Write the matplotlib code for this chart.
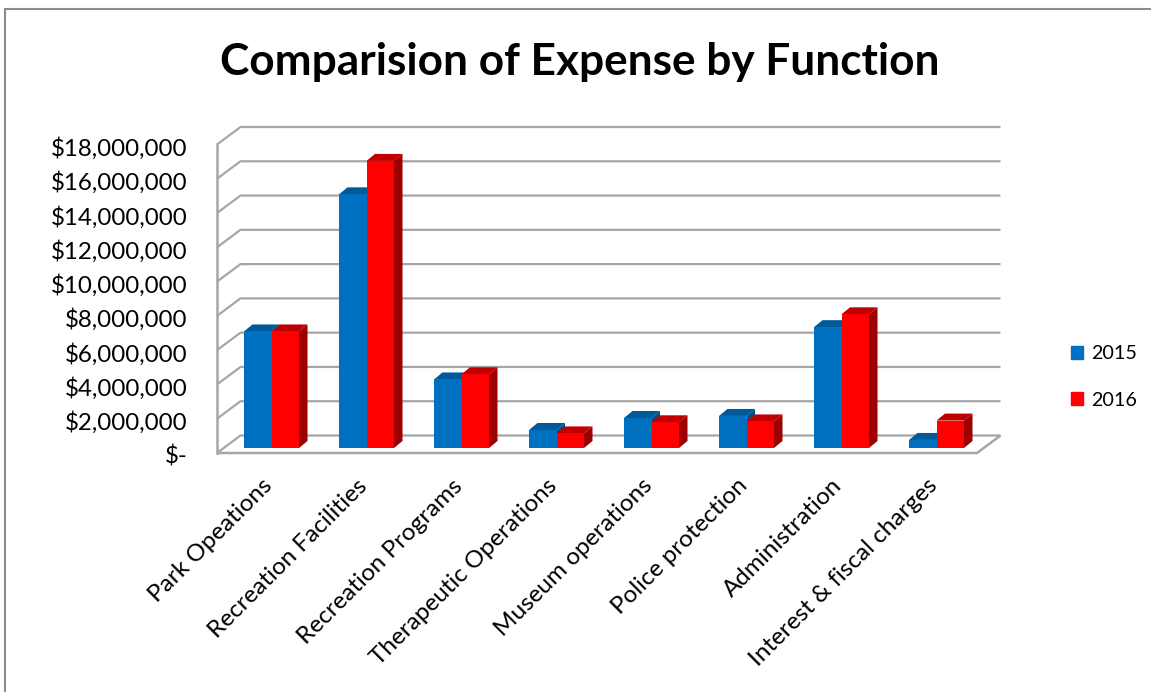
import matplotlib
matplotlib.use('Agg')
import matplotlib.pyplot as plt
from matplotlib.patches import Patch, Polygon, Rectangle
from matplotlib.ticker import FuncFormatter
from matplotlib.transforms import ScaledTranslation

categories = ['Park Opeations', 'Recreation Facilities', 'Recreation Programs', 'Therapeutic Operations',
              'Museum operations', 'Police protection', 'Administration', 'Interest & fiscal charges']
values2015 = [6800000, 14800000, 4000000, 1050000, 1750000, 1870000, 7050000, 470000]
values2016 = [6800000, 16750000, 4300000, 850000, 1500000, 1550000, 7800000, 1600000]
yTicks = [0, 2000000, 4000000, 6000000, 8000000, 10000000, 12000000, 14000000, 16000000, 18000000]

FIG_W, FIG_H = 1151, 692
AX_LEFT, AX_RIGHT, AX_TOP, AX_BOTTOM = 217, 977, 144.5, 453
GRID = '#a6a6a6'
FONT = 'Lato'


def formatDollar(value, pos):
    return '$-' if value == 0 else f'${value:,.0f}'


def drawBar3d(ax, x, value, width, faceColor, topColor, sideColor, base, depthX, depthY):
    top = base + value
    ax.bar(x, value, width, bottom=base, color=faceColor, align='edge', zorder=4, clip_on=False)
    ax.add_patch(Polygon([(x, top), (x + depthX, top + depthY), (x + width + depthX, top + depthY), (x + width, top)],
                         color=topColor, lw=0, zorder=3, clip_on=False))
    ax.add_patch(Polygon([(x + width, base), (x + width + depthX, base + depthY), (x + width + depthX, top + depthY), (x + width, top)],
                         color=sideColor, lw=0, zorder=3, clip_on=False))


def shiftLabels(labels, fig, dxPx, dyPx):
    shift = ScaledTranslation(dxPx / 100, dyPx / 100, fig.dpi_scale_trans)
    for label in labels:
        label.set_transform(label.get_transform() + shift)


def main():
    plt.rcParams['font.family'] = [FONT, 'DejaVu Sans']
    fig = plt.figure(figsize=(FIG_W / 100, FIG_H / 100), dpi=100)
    ax = fig.add_axes([AX_LEFT / FIG_W, 1 - AX_BOTTOM / FIG_H, (AX_RIGHT - AX_LEFT) / FIG_W, (AX_BOTTOM - AX_TOP) / FIG_H])
    ax.set_xlim(-0.5, len(categories) - 0.5)
    ax.set_ylim(0, 18000000)

    # pixel sizes turned into data units
    xPerPx = len(categories) / (AX_RIGHT - AX_LEFT)
    yPerPx = 18000000 / (AX_BOTTOM - AX_TOP)
    wallX, wallY = 23.5 * xPerPx, 17.5 * yPerPx
    depthX, depthY = 8.5 * xPerPx, 7 * yPerPx
    base = 5 * yPerPx
    barWidth = 27.5 * xPerPx
    barShift = 7 * xPerPx

    # walls and gridlines
    xLeft, xRight = ax.get_xlim()
    for tick in yTicks:
        ax.plot([xLeft, xLeft + wallX, xRight + wallX], [tick, tick + wallY, tick + wallY], color=GRID, lw=1.6, clip_on=False, zorder=1,
                solid_joinstyle='miter', solid_capstyle='butt')
    ax.plot([xLeft, xLeft], [0, 18000000], color=GRID, lw=1.8, clip_on=False, zorder=1)
    ax.plot([xLeft, xRight, xRight + wallX], [0, 0, wallY], color=GRID, lw=1.8, clip_on=False, zorder=1, solid_capstyle='butt')

    for i in range(len(categories)):
        drawBar3d(ax, i + barShift - barWidth, values2015[i], barWidth, '#0070c0', '#005a9a', '#00518a', base, depthX, depthY)
        drawBar3d(ax, i + barShift, values2016[i], barWidth, '#ff0000', '#c00000', '#9c0000', base, depthX, depthY)

    for spine in ax.spines.values():
        spine.set_visible(False)
    ax.patch.set_visible(False)
    ax.set_yticks(yTicks)
    ax.yaxis.set_major_formatter(FuncFormatter(formatDollar))
    ax.tick_params(axis='y', length=0, pad=21, labelsize=17.4)
    ax.set_xticks(range(len(categories)))
    ax.set_xticklabels(categories, rotation=45, ha='right', va='top', rotation_mode='anchor', fontsize=17.5)
    ax.tick_params(axis='x', length=0, pad=13)
    shiftLabels(ax.get_yticklabels(), fig, 0, -2)
    shiftLabels(ax.get_xticklabels(), fig, -3, -4)

    fig.text(580 / FIG_W, 1 - 62 / FIG_H, 'Comparision of Expense by Function', ha='center', va='center', fontsize=31.8, fontweight='bold')

    handles = [Patch(color='#0070c0', label='2015'), Patch(color='#ff0000', label='2016')]
    fig.legend(handles=handles, loc='center left', bbox_to_anchor=(1065 / FIG_W, 1 - 377 / FIG_H), frameon=False, fontsize=14.2,
               handlelength=0.62, handleheight=0.62, handletextpad=0.4, labelspacing=1.5, borderaxespad=0, borderpad=0.3)

    # chart area border
    fig.add_artist(Rectangle((5 / FIG_W, -0.1), 1.1, 1.1 - 9 / FIG_H, transform=fig.transFigure, fill=False, edgecolor='#8c8c8c', lw=1.5))

    fig.savefig('out.png', dpi=100)


if __name__ == "__main__":
    main()
